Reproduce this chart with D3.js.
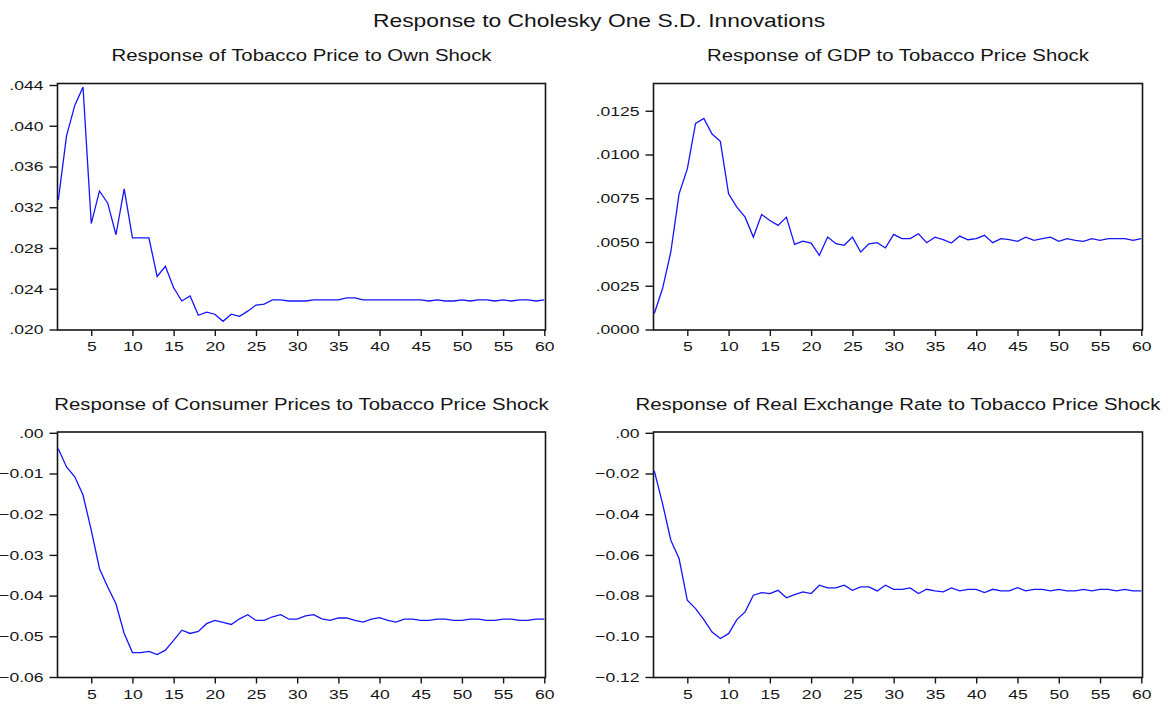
<!DOCTYPE html>
<html>
<head>
<meta charset="utf-8">
<script src="https://cdn.jsdelivr.net/npm/d3@7"></script>
<style>
  html, body { margin: 0; padding: 0; background: #fff; }
  svg { display: block; }
  text { font-family: "Liberation Sans", Arial, sans-serif; fill: #151515; }
</style>
</head>
<body>
<svg id="chart" width="1170" height="704"></svg>
<script>
// Impulse responses, periods 1..60
const periods = d3.range(1, 61);

const tobaccoOwn = [
  .0327, .0390, .0420, .0438, .0304, .0336, .0324, .0293, .0338, .0290,
  .0290, .0290, .0252, .0262, .0241, .0228, .0233, .0214, .0217, .0215,
  .0208, .0215, .0213, .0218, .0224, .0225, .0229, .0229, .0228, .0228,
  .0228, .0229, .0229, .0229, .0229, .0231, .0231, .0229, .0229, .0229,
  .0229, .0229, .0229, .0229, .0229, .0228, .0229, .0228, .0228, .0229,
  .0228, .0229, .0229, .0228, .0229, .0228, .0229, .0229, .0228, .0229
];

const gdpResp = [
  .00091, .00234, .00443, .00775, .00918, .01178, .01206, .01117, .01075, .00775,
  .00699, .00642, .00528, .00657, .00623, .00595, .00642, .00486, .00505, .00494,
  .00424, .00528, .00490, .00481, .00528, .00443, .00490, .00496, .00466, .00543,
  .00519, .00519, .00547, .00496, .00528, .00513, .00494, .00534, .00513, .00519,
  .00538, .00496, .00519, .00513, .00504, .00528, .00509, .00519, .00528, .00504,
  .00519, .00509, .00504, .00519, .00509, .00519, .00519, .00519, .00509, .00519
];

const cpiResp = [
  -.0039, -.0084, -.0108, -.0153, -.0239, -.0334, -.0379, -.0420, -.0493, -.0540,
  -.0540, -.0537, -.0545, -.0534, -.0510, -.0485, -.0493, -.0488, -.0469, -.0461,
  -.0466, -.0471, -.0457, -.0447, -.0461, -.0461, -.0452, -.0447, -.0458, -.0458,
  -.0450, -.0447, -.0457, -.0461, -.0455, -.0455, -.0461, -.0465, -.0458, -.0454,
  -.0461, -.0465, -.0458, -.0458, -.0461, -.0461, -.0458, -.0458, -.0461, -.0461,
  -.0458, -.0458, -.0461, -.0461, -.0458, -.0458, -.0461, -.0461, -.0458, -.0458
];

const rerResp = [
  -.0187, -.0348, -.0528, -.0618, -.0823, -.0864, -.0918, -.0979, -.1011, -.0987,
  -.0918, -.0880, -.0798, -.0785, -.0790, -.0774, -.0811, -.0795, -.0782, -.0790,
  -.0749, -.0762, -.0762, -.0749, -.0774, -.0757, -.0757, -.0777, -.0749, -.0769,
  -.0769, -.0762, -.0790, -.0769, -.0777, -.0782, -.0762, -.0777, -.0769, -.0769,
  -.0785, -.0769, -.0777, -.0777, -.0761, -.0777, -.0769, -.0769, -.0777, -.0769,
  -.0777, -.0777, -.0769, -.0777, -.0769, -.0769, -.0777, -.0769, -.0777, -.0777
];

// Axis ticks
const xTicks = [5, 10, 15, 20, 25, 30, 35, 40, 45, 50, 55, 60];
const yTicksTobacco = [.020, .024, .028, .032, .036, .040, .044];
const yTicksGdp = [0, .0025, .0050, .0075, .0100, .0125];
const yTicksCpi = [-.06, -.05, -.04, -.03, -.02, -.01, 0];
const yTicksRer = [-.12, -.10, -.08, -.06, -.04, -.02, 0];

// Titles
const mainTitle = "Response to Cholesky One S.D. Innovations";
const panelTitles = [
  "Response of Tobacco Price to Own Shock",
  "Response of GDP to Tobacco Price Shock",
  "Response of Consumer Prices to Tobacco Price Shock",
  "Response of Real Exchange Rate to Tobacco Price Shock"
];

// Strip the leading zero, EViews style: 0.044 -> .044, -0.01 -> -.01
function evFormat(digits) {
  const f = d3.format("." + digits + "f");
  return v => f(v).replace(/^(-?)0\./, "$1.");
}

// Wide, GDI-like lettering: glyphs are stretched horizontally
const TITLE_SX = 1.27, SUB_SX = 1.235, TICK_SX = 1.3;

const panels = [
  { title: panelTitles[0], values: tobaccoOwn, ticks: yTicksTobacco, domain: [.020, .044], digits: 3,
    left: 57.5, right: 545.5, top: 83.5, bottom: 330, yTop: 85 },
  { title: panelTitles[1], values: gdpResp, ticks: yTicksGdp, domain: [0, .014], digits: 4,
    left: 653.5, right: 1142.5, top: 83.5, bottom: 330, yTop: 84.5 },
  { title: panelTitles[2], values: cpiResp, ticks: yTicksCpi, domain: [-.06, 0], digits: 2,
    left: 57.5, right: 545.5, top: 432, bottom: 677.5, yTop: 432.8 },
  { title: panelTitles[3], values: rerResp, ticks: yTicksRer, domain: [-.12, 0], digits: 2,
    left: 653.5, right: 1142.5, top: 432, bottom: 677.5, yTop: 432.8 }
];

const svg = d3.select("#chart");

svg.append("text")
  .attr("transform", `translate(599,26.5) scale(${TITLE_SX},1)`)
  .attr("text-anchor", "middle")
  .style("font-size", "18px")
  .text(mainTitle);

panels.forEach(p => {
  const g = svg.append("g");
  const x = d3.scaleLinear().domain([1, 60]).range([p.left + 0.8, p.right - 1.2]);
  const y = d3.scaleLinear().domain(p.domain).range([p.bottom - 0.5, p.yTop]);

  g.append("text")
    .attr("transform", `translate(${(p.left + p.right) / 2},${p.top - 22.5}) scale(${SUB_SX},1)`)
    .attr("text-anchor", "middle")
    .style("font-size", "16.5px")
    .text(p.title);

  // y axis (ticks pointing outward to the left)
  const yAxis = d3.axisLeft(y).tickValues(p.ticks).tickFormat(evFormat(p.digits))
    .tickSize(8).tickPadding(6);
  const ya = g.append("g").attr("transform", `translate(${p.left},0)`).call(yAxis);
  ya.select(".domain").remove();
  ya.selectAll(".tick line").attr("stroke", "#151515").attr("stroke-width", 1.4);
  ya.selectAll(".tick text")
    .style("font-size", "13.5px")
    .style("font-family", "'Liberation Sans', Arial, sans-serif")
    .attr("fill", "#151515")
    .attr("x", -14 / TICK_SX)
    .attr("transform", `scale(${TICK_SX},1)`);

  // x axis (ticks pointing down)
  const xAxis = d3.axisBottom(x).tickValues(xTicks).tickFormat(d3.format("d"))
    .tickSize(6).tickPadding(5.5);
  const xa = g.append("g").attr("transform", `translate(0,${p.bottom})`).call(xAxis);
  xa.select(".domain").remove();
  xa.selectAll(".tick line").attr("stroke", "#151515").attr("stroke-width", 1.4);
  xa.selectAll(".tick text")
    .style("font-size", "13.5px")
    .style("font-family", "'Liberation Sans', Arial, sans-serif")
    .attr("fill", "#151515")
    .attr("transform", `scale(${TICK_SX},1)`);

  // plot frame
  g.append("rect")
    .attr("x", p.left).attr("y", p.top)
    .attr("width", p.right - p.left).attr("height", p.bottom - p.top)
    .attr("fill", "none").attr("stroke", "#151515").attr("stroke-width", 1.6);

  // response line
  const line = d3.line().x((d, i) => x(periods[i])).y(d => y(d));
  g.append("path")
    .datum(p.values)
    .attr("d", line)
    .attr("fill", "none")
    .attr("stroke", "#1414ff")
    .attr("stroke-width", 1.3);
});
</script>
</body>
</html>
